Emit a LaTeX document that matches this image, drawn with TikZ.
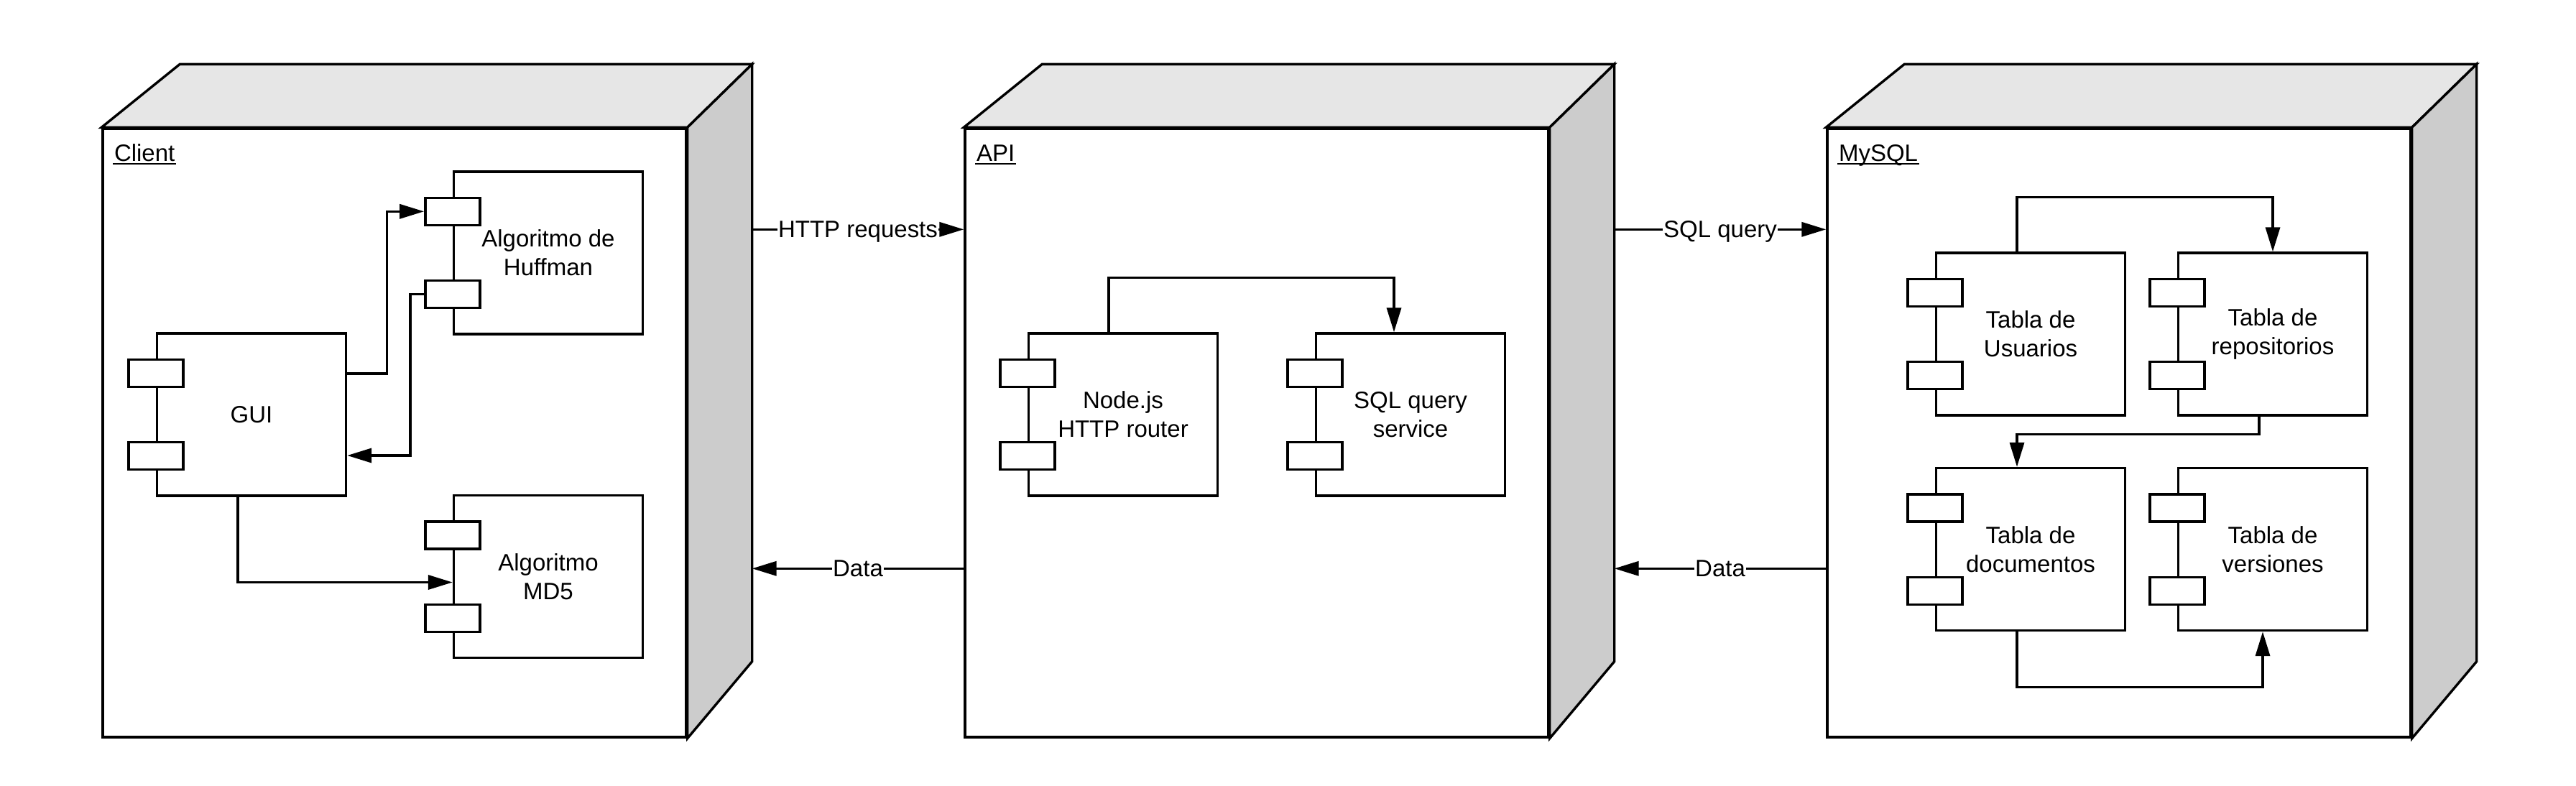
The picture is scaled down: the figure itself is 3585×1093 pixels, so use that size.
\documentclass[tikz,border=0pt]{standalone}
\usepackage{fontspec}
\setmainfont{Liberation Sans}
\usepackage{tikz}
\usetikzlibrary{arrows.meta}

\definecolor{topgray}{HTML}{E6E6E6}
\definecolor{sidegray}{HTML}{CCCCCC}

\tikzset{
  devbox/.style={draw,fill=white,minimum width=812pt,minimum height=847pt,inner sep=0pt},
  topface/.style={fill=topgray,draw=black},
  sideface/.style={fill=sidegray,draw=black},
  devlabel/.style={anchor=base west,inner sep=0pt},
  uline/.style={line width=2pt},
  comp/.style={draw,fill=white,align=center,minimum width=263pt,minimum height=226pt,inner sep=0pt},
  port/.style={draw,fill=white,minimum width=76pt,minimum height=38pt,inner sep=0pt},
  msg/.style={fill=white,inner sep=1pt,text height=23pt,text depth=0pt}
}

\begin{document}
\begin{tikzpicture}[
                x=1pt,y=-1pt,
                line width=3.4pt,
                >={Triangle[length=34pt,width=20pt]},
                font=\fontsize{33}{40}\selectfont] %

\useasboundingbox (0,0) rectangle (3585,1093);

% client
                    \node[devbox] (CLIENT) at (549,602.5) {};
                    \filldraw[topface] (CLIENT.north west) -- ++(109,-88) -- ([shift={(90,-88)}]CLIENT.north east) -- (CLIENT.north east) -- cycle;
                    \filldraw[sideface] (CLIENT.north east) -- ++(90,-88) -- ([shift={(90,-107)}]CLIENT.south east) -- (CLIENT.south east) -- cycle;
                    \node[devlabel] (CLIENTL) at ([shift={(16,47)}]CLIENT.north west) {Client};
                    \draw[uline] ([yshift=-4pt]CLIENTL.base west) -- ([yshift=-4pt]CLIENTL.base east);

                    % 1
                    \node[comp] (GUI) at (350,577) {GUI};
                    \node[port] (GUIP1) at ([yshift=-57pt]GUI.north west) {};
                    \node[port] (GUIP2) at ([yshift=57pt]GUI.south west) {};

                    % 2
                    \node[comp] (HUFF) at (763,352) {Algoritmo de\\Huffman};
                    \node[port] (HUFFP1) at ([yshift=-57pt]HUFF.north west) {};
                    \node[port] (HUFFP2) at ([yshift=57pt]HUFF.south west) {};

                    % 3
                    \node[comp] (MD5) at (763,802.5) {Algoritmo\\MD5};
                    \node[port] (MD5P1) at ([yshift=-57pt]MD5.north west) {};
                    \node[port] (MD5P2) at ([yshift=57pt]MD5.south west) {};

                    \draw[->] ([yshift=57pt]GUI.east) -- ++(55,0) |- (HUFFP1.west);
                    \draw[->] (HUFFP2.west) -- ++(-19,0) |- ([yshift=-57pt]GUI.east);
                    \draw[->] ([xshift=-19pt]GUI.south) |- ([yshift=-8pt]MD5.west);

%%%%%%%%%%%%%%%%%%%%%%%%%%%%%%%%%%%%%%%%%%%%%%%%%%%%%%%%%%%%%%%%%%%%%%%%%%%%%%%%%%%%

% api
                    \node[devbox] (API) at (1749,602.5) {};
                    \filldraw[topface] (API.north west) -- ++(109,-88) -- ([shift={(90,-88)}]API.north east) -- (API.north east) -- cycle;
                    \filldraw[sideface] (API.north east) -- ++(90,-88) -- ([shift={(90,-107)}]API.south east) -- (API.south east) -- cycle;
                    \node[devlabel] (APIL) at ([shift={(16,47)}]API.north west) {API};
                    \draw[uline] ([yshift=-4pt]APIL.base west) -- ([yshift=-4pt]APIL.base east);

                    % 1
                    \node[comp] (ROUTER) at (1563,577) {Node.js\\HTTP router};
                    \node[port] (ROUTERP1) at ([yshift=-57pt]ROUTER.north west) {};
                    \node[port] (ROUTERP2) at ([yshift=57pt]ROUTER.south west) {};

                    % 2
                    \node[comp] (SQLSRV) at (1963,577) {SQL query\\service};
                    \node[port] (SQLSRVP1) at ([yshift=-57pt]SQLSRV.north west) {};
                    \node[port] (SQLSRVP2) at ([yshift=57pt]SQLSRV.south west) {};

                    \draw[->] ([xshift=-20pt]ROUTER.north) -- ++(0,-76) -| ([xshift=-23pt]SQLSRV.north);

%%%%%%%%%%%%%%%%%%%%%%%%%%%%%%%%%%%%%%%%%%%%%%%%%%%%%%%%%%%%%%%%%%%%%%%%%%%%%%%%%%%%

% mysql
                    \node[devbox] (MYSQL) at (2949,602.5) {};
                    \filldraw[topface] (MYSQL.north west) -- ++(109,-88) -- ([shift={(90,-88)}]MYSQL.north east) -- (MYSQL.north east) -- cycle;
                    \filldraw[sideface] (MYSQL.north east) -- ++(90,-88) -- ([shift={(90,-107)}]MYSQL.south east) -- (MYSQL.south east) -- cycle;
                    \node[devlabel] (MYSQLL) at ([shift={(16,47)}]MYSQL.north west) {MySQL};
                    \draw[uline] ([yshift=-4pt]MYSQLL.base west) -- ([yshift=-4pt]MYSQLL.base east);

                    % 1
                    \node[comp] (USERS) at (2826,465) {Tabla de\\Usuarios};
                    \node[port] (USERSP1) at ([yshift=-57pt]USERS.north west) {};
                    \node[port] (USERSP2) at ([yshift=57pt]USERS.south west) {};

                    % 2
                    \node[comp] (REPOS) at (3163,465) {Tabla de\\repositorios};
                    \node[port] (REPOSP1) at ([yshift=-57pt]REPOS.north west) {};
                    \node[port] (REPOSP2) at ([yshift=57pt]REPOS.south west) {};

                    % 3
                    \node[comp] (DOCS) at (2826,764.5) {Tabla de\\documentos};
                    \node[port] (DOCSP1) at ([yshift=-57pt]DOCS.north west) {};
                    \node[port] (DOCSP2) at ([yshift=57pt]DOCS.south west) {};

                    % 4
                    \node[comp] (VERS) at (3163,764.5) {Tabla de\\versiones};
                    \node[port] (VERSP1) at ([yshift=-57pt]VERS.north west) {};
                    \node[port] (VERSP2) at ([yshift=57pt]VERS.south west) {};

                    \draw[->] ([xshift=-19pt]USERS.north) -- ++(0,-76) -| (REPOS.north);
                    \draw[->] ([xshift=-19pt]REPOS.south) -- ++(0,25) -| ([xshift=-19pt]DOCS.north);
                    \draw[->] ([xshift=-19pt]DOCS.south) -- ++(0,77) -| ([xshift=-14pt]VERS.south);

%%%%%%%%%%%%%%%%%%%%%%%%%%%%%%%%%%%%%%%%%%%%%%%%%%%%%%%%%%%%%%%%%%%%%%%%%%%%%%%%%%%%

% between
                    \draw[->] ([shift={(90,142)}]CLIENT.north east) -- node[msg] {HTTP requests} ([shift={(0,142)}]API.north west);
                    \draw[->] ([shift={(0,614)}]API.north west) -- node[msg] {Data} ([shift={(90,614)}]CLIENT.north east);
                    \draw[->] ([shift={(90,142)}]API.north east) -- node[msg] {SQL query} ([shift={(0,142)}]MYSQL.north west);
                    \draw[->] ([shift={(0,614)}]MYSQL.north west) -- node[msg] {Data} ([shift={(90,614)}]API.north east);

\end{tikzpicture}
\end{document}
